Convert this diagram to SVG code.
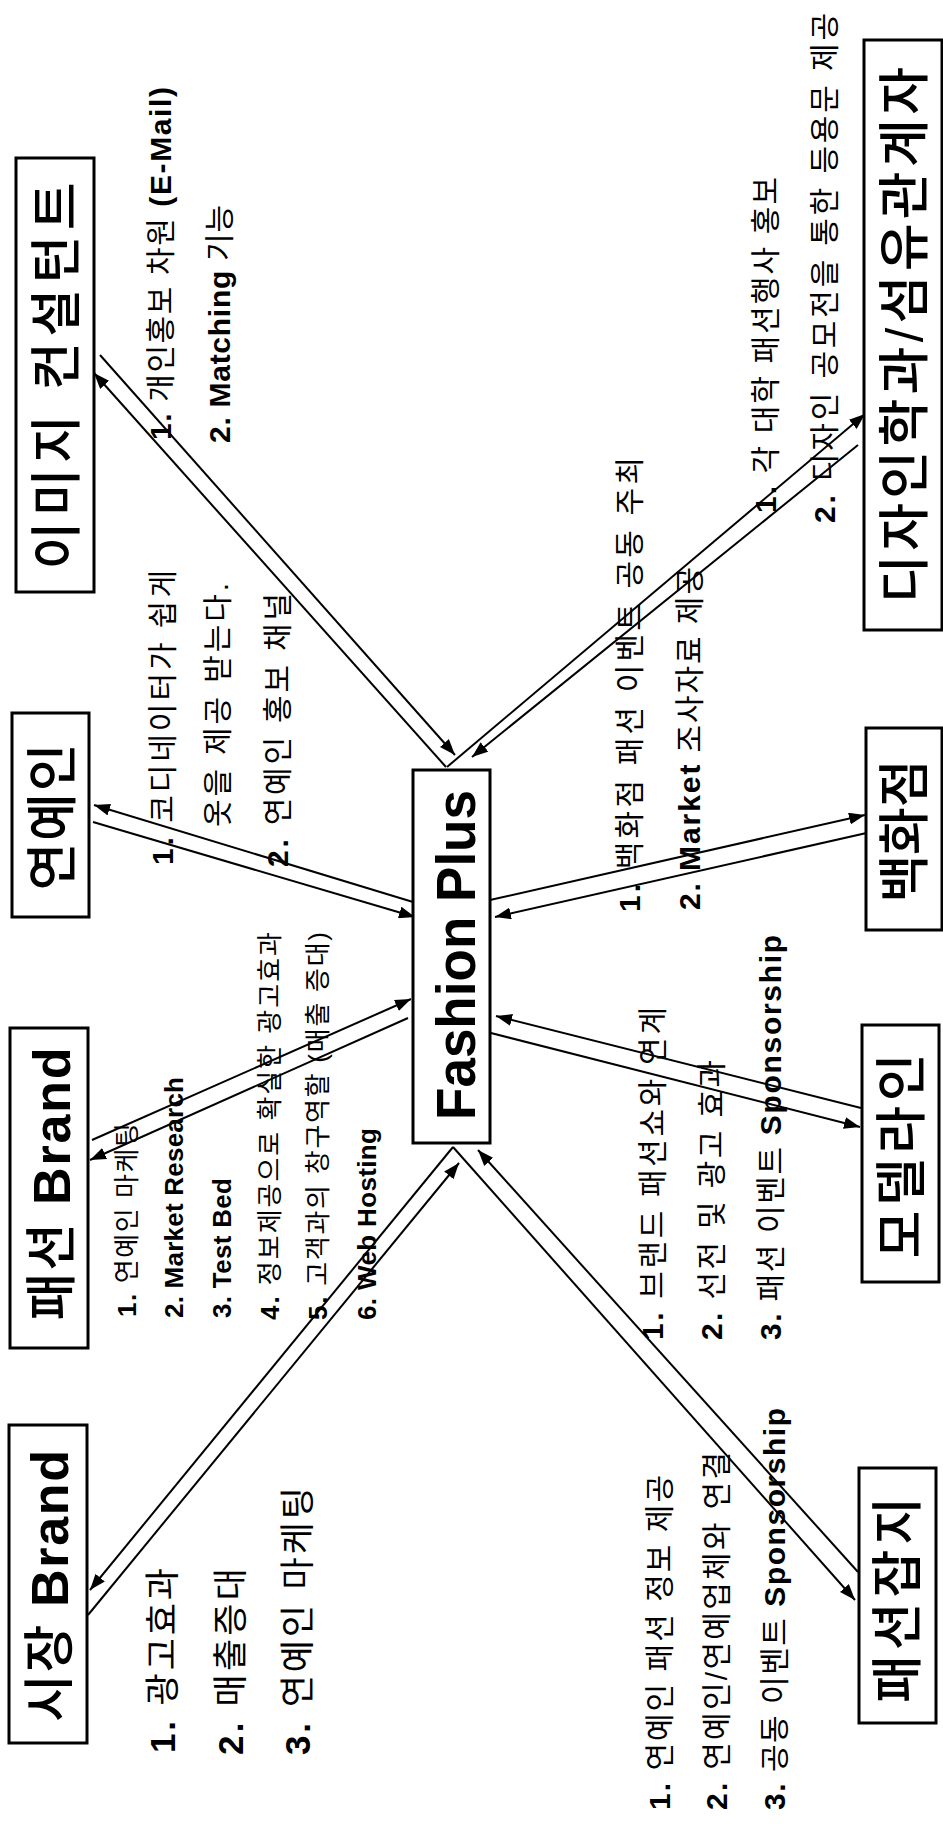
<svg xmlns="http://www.w3.org/2000/svg" width="943" height="1824" viewBox="0 0 943 1824">
<style>
text{font-family:"Liberation Sans","Noto Sans CJK KR",sans-serif;fill:#000;dominant-baseline:central}
.box{fill:#fff;stroke:#000;stroke-width:3}
.conn{stroke:#000;stroke-width:2;fill:none;marker-end:url(#ah)}
.nl{font-size:52px;font-weight:500;text-anchor:middle}
.fp{font-size:56px;font-weight:bold;text-anchor:middle}
.lb{font-size:30px}
.sm{font-size:26px}
.md{font-size:35px}
.b{font-weight:bold}
</style>
<defs>
<marker id="ah" viewBox="0 0 16 12" refX="16" refY="6" markerWidth="16" markerHeight="12" markerUnits="userSpaceOnUse" orient="auto"><path d="M0,0 L16,6 L0,12 z" fill="#000"/></marker>
</defs>
<rect width="943" height="1824" fill="#fff"/>
<g id="connectors">
<line class="conn" x1="446" y1="767" x2="94" y2="373"/>
<line class="conn" x1="100" y1="355" x2="455" y2="755"/>
<line class="conn" x1="447" y1="767" x2="865" y2="414"/>
<line class="conn" x1="858" y1="445" x2="472" y2="757"/>
<line class="conn" x1="413" y1="902" x2="94" y2="805"/>
<line class="conn" x1="93" y1="822" x2="415" y2="917"/>
<line class="conn" x1="490" y1="900" x2="865" y2="815"/>
<line class="conn" x1="871" y1="832" x2="495" y2="917"/>
<line class="conn" x1="861" y1="1108" x2="496" y2="1016"/>
<line class="conn" x1="487" y1="1032" x2="860" y2="1127"/>
<line class="conn" x1="453" y1="1147" x2="855" y2="1600"/>
<line class="conn" x1="858" y1="1572" x2="478" y2="1150"/>
<line class="conn" x1="92" y1="1140" x2="411" y2="999"/>
<line class="conn" x1="408" y1="1018" x2="90" y2="1160"/>
<line class="conn" x1="453" y1="1147" x2="90" y2="1590"/>
<line class="conn" x1="88" y1="1615" x2="459" y2="1163"/>
</g>
<g id="fashion-plus">
<rect class="box" x="413" y="770" width="77" height="373"/>
<text class="fp" transform="translate(455,955) rotate(-90)" textLength="330" lengthAdjust="spacingAndGlyphs">Fashion Plus</text>
</g>
<g id="image-consultant">
<rect class="box" x="16" y="158" width="78" height="434"/>
<text class="nl" transform="translate(57,376) rotate(-90)" textLength="387">이미지 컨설턴트</text>
</g>
<g id="design-dept">
<rect class="box" x="864" y="40" width="78" height="590"/>
<text class="nl" transform="translate(905,335) rotate(-90)" textLength="536">디자인학과/섬유관계자</text>
</g>
<g id="celebrity">
<rect class="box" x="12" y="713" width="77" height="204"/>
<text class="nl" transform="translate(53,817) rotate(-90)" textLength="147">연예인</text>
</g>
<g id="department-store">
<rect class="box" x="866" y="728" width="76" height="202"/>
<text class="nl" transform="translate(905,831) rotate(-90)" textLength="143">백화점</text>
</g>
<g id="fashion-brand">
<rect class="box" x="10" y="1028" width="78" height="320"/>
<text class="nl" transform="translate(52,1184) rotate(-90)" textLength="273">패션 <tspan class="b">Brand</tspan></text>
</g>
<g id="model-line">
<rect class="box" x="862" y="1025" width="77" height="257"/>
<text class="nl" transform="translate(902,1156) rotate(-90)" textLength="205">모델라인</text>
</g>
<g id="market-brand">
<rect class="box" x="9" y="1425" width="78" height="318"/>
<text class="nl" transform="translate(50,1586) rotate(-90)" textLength="272">시장 <tspan class="b">Brand</tspan></text>
</g>
<g id="fashion-magazine">
<rect class="box" x="859" y="1468" width="77" height="255"/>
<text class="nl" transform="translate(898,1600) rotate(-90)" textLength="206">패션잡지</text>
</g>
<g id="labels-image-consultant">
<text class="lb" transform="translate(160,440) rotate(-90)" textLength="353"><tspan class="b">1.</tspan> 개인홍보 차원 <tspan class="b">(E-Mail)</tspan></text>
<text class="lb" transform="translate(219,443) rotate(-90)" textLength="238"><tspan class="b">2. Matching</tspan> 기능</text>
</g>
<g id="labels-design-dept">
<text class="lb" transform="translate(765,513) rotate(-90)" textLength="336"><tspan class="b">1.</tspan> 각 대학 패션행사 홍보</text>
<text class="lb" transform="translate(824,523) rotate(-90)" textLength="510"><tspan class="b">2.</tspan> 디자인 공모전을 통한 등용문 제공</text>
</g>
<g id="labels-celebrity">
<text class="lb" transform="translate(162,865) rotate(-90)" textLength="295"><tspan class="b">1.</tspan> 코디네이터가 쉽게</text>
<text class="lb" transform="translate(217,827) rotate(-90)" textLength="244">옷을 제공 받는다.</text>
<text class="lb" transform="translate(277,867) rotate(-90)" textLength="274"><tspan class="b">2.</tspan> 연예인 홍보 채널</text>
</g>
<g id="labels-department-store">
<text class="lb" transform="translate(629,912) rotate(-90)" textLength="455"><tspan class="b">1.</tspan> 백화점 패션 이벤트 공동 주최</text>
<text class="lb" transform="translate(689,910) rotate(-90)" textLength="343"><tspan class="b">2. Market</tspan> 조사자료 제공</text>
</g>
<g id="labels-fashion-brand">
<text class="sm" transform="translate(127,1317) rotate(-90)" textLength="194"><tspan class="b">1.</tspan> 연예인 마케팅</text>
<text class="sm b" transform="translate(174,1318) rotate(-90)" textLength="241">2. Market Research</text>
<text class="sm b" transform="translate(222,1318) rotate(-90)" textLength="140">3. Test Bed</text>
<text class="sm" transform="translate(270,1320) rotate(-90)" textLength="388"><tspan class="b">4.</tspan> 정보제공으로 확실한 광고효과</text>
<text class="sm" transform="translate(318,1320) rotate(-90)" textLength="388"><tspan class="b">5.</tspan> 고객과의 창구역할 (매출 증대)</text>
<text class="sm b" transform="translate(367,1320) rotate(-90)" textLength="192">6. Web Hosting</text>
</g>
<g id="labels-model-line">
<text class="lb" transform="translate(652,1340) rotate(-90)" textLength="333"><tspan class="b">1.</tspan> 브랜드 패션쇼와 연계</text>
<text class="lb" transform="translate(711,1340) rotate(-90)" textLength="280"><tspan class="b">2.</tspan> 선전 및 광고 효과</text>
<text class="lb" transform="translate(770,1340) rotate(-90)" textLength="405"><tspan class="b">3.</tspan> 패션 이벤트 <tspan class="b">Sponsorship</tspan></text>
</g>
<g id="labels-market-brand">
<text class="md" transform="translate(162,1753) rotate(-90)" textLength="185"><tspan class="b">1.</tspan> 광고효과</text>
<text class="md" transform="translate(230,1755) rotate(-90)" textLength="187"><tspan class="b">2.</tspan> 매출증대</text>
<text class="md" transform="translate(297,1755) rotate(-90)" textLength="268"><tspan class="b">3.</tspan> 연예인 마케팅</text>
</g>
<g id="labels-fashion-magazine">
<text class="lb" transform="translate(659,1810) rotate(-90)" textLength="335"><tspan class="b">1.</tspan> 연예인 패션 정보 제공</text>
<text class="lb" transform="translate(716,1810) rotate(-90)" textLength="358"><tspan class="b">2.</tspan> 연예인/연예업체와 연결</text>
<text class="lb" transform="translate(774,1810) rotate(-90)" textLength="402"><tspan class="b">3.</tspan> 공동 이벤트 <tspan class="b">Sponsorship</tspan></text>
</g>
</svg>
